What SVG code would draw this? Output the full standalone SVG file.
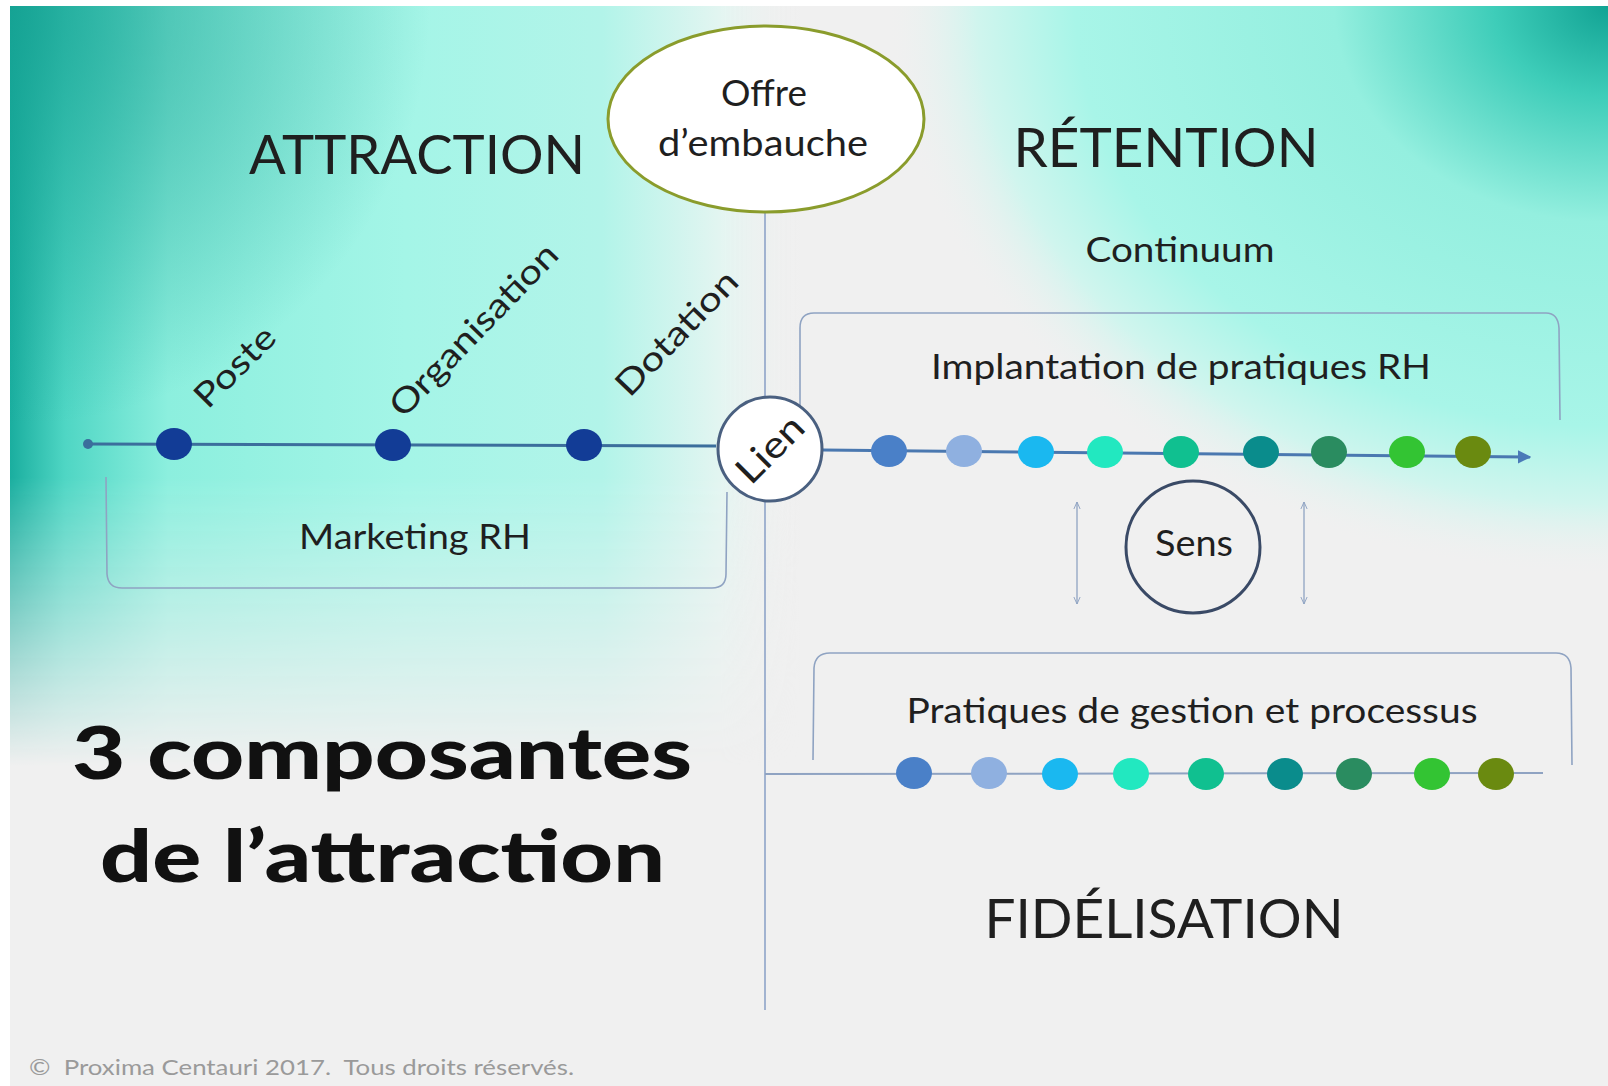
<svg xmlns="http://www.w3.org/2000/svg" width="1608" height="1086" viewBox="0 0 1608 1086">
<style>
.t{font-family:Lato,"Liberation Sans",sans-serif;fill:#1f1f1f;text-anchor:middle}
.big{font-size:55px}
.mid{font-size:34px}
.bold{font-family:Lato,"DejaVu Sans",sans-serif;font-weight:900;font-size:72px;fill:#111}
.br{fill:none;stroke:#8fa3c2;stroke-width:1.6}
.vl{stroke:#8ea4c8;stroke-width:1.6;fill:none}
.dn{fill:#123c96}
</style>
<defs>
<linearGradient id="gL" x1="0" y1="0" x2="1" y2="0">
<stop offset="0" stop-color="#1aae9f"/>
<stop offset="0.07" stop-color="#4fd6c4"/>
<stop offset="0.2" stop-color="#8cefde"/>
<stop offset="0.5" stop-color="#a4f5e7"/>
<stop offset="0.75" stop-color="#b2f4e9"/>
<stop offset="0.9" stop-color="#e3f5f1"/>
<stop offset="1" stop-color="#f0f0f0" stop-opacity="0"/>
</linearGradient>
<linearGradient id="gV" x1="0" y1="0" x2="0" y2="1">
<stop offset="0" stop-color="#fff"/>
<stop offset="0.62" stop-color="#fff"/>
<stop offset="1" stop-color="#000"/>
</linearGradient>
<mask id="mL" maskUnits="userSpaceOnUse" x="0" y="0" width="800" height="780">
<rect x="0" y="6" width="800" height="760" fill="url(#gV)"/>
</mask>
<radialGradient id="gR" gradientUnits="userSpaceOnUse" cx="0" cy="0" r="1" gradientTransform="translate(1608 6) scale(760 600)">
<stop offset="0" stop-color="#12a394"/>
<stop offset="0.15" stop-color="#3ecdb9"/>
<stop offset="0.36" stop-color="#94efdf"/>
<stop offset="0.7" stop-color="#a8f5e8"/>
<stop offset="0.83" stop-color="#d0f5ee"/>
<stop offset="0.95" stop-color="#f0f0f0" stop-opacity="0"/>
</radialGradient>
<radialGradient id="gTL" gradientUnits="userSpaceOnUse" cx="10" cy="6" r="420">
<stop offset="0" stop-color="#14a091" stop-opacity="0.8"/>
<stop offset="1" stop-color="#14a091" stop-opacity="0"/>
</radialGradient>
<marker id="ah" viewBox="0 0 10 10" refX="9" refY="5" markerWidth="4.5" markerHeight="4.5" orient="auto">
<path d="M0,0 L10,5 L0,10 Z" fill="#4a7ab8"/>
</marker>
<marker id="oa" viewBox="0 0 10 10" refX="9" refY="5" markerWidth="8" markerHeight="8" orient="auto-start-reverse" markerUnits="userSpaceOnUse">
<path d="M0,1 L9,5 L0,9" fill="none" stroke="#8fa3c2" stroke-width="1.2"/>
</marker>
</defs>

<!-- background -->
<rect x="0" y="0" width="1608" height="1086" fill="#ffffff"/>
<rect x="10" y="6" width="1598" height="1080" fill="#f0f0f0"/>
<rect x="10" y="6" width="790" height="760" fill="url(#gL)" mask="url(#mL)"/>
<rect x="10" y="6" width="500" height="500" fill="url(#gTL)"/>
<rect x="840" y="6" width="768" height="720" fill="url(#gR)"/>

<!-- connectors -->
<g id="connectors">
<line class="vl" x1="765" y1="213" x2="765" y2="1010"/>
<line x1="88" y1="444" x2="716" y2="446" stroke="#3b6e9c" stroke-width="3"/>
<circle cx="88" cy="444" r="5" fill="#3b6e9c"/>
<line x1="823" y1="450" x2="1530" y2="457" stroke="#4a78b0" stroke-width="3" marker-end="url(#ah)"/>
<line x1="765" y1="774" x2="1543" y2="773" stroke="#8fa3c2" stroke-width="2"/>
<path class="br" d="M800 406 L800 328 Q800 313 814 313 L1546 313 Q1558 313 1559 328 L1560 420"/>
<path class="br" d="M106 477 L107 574 Q108 588 122 588 L712 588 Q726 588 726 574 L727 492"/>
<path class="br" d="M813 760 L814 668 Q815 653 830 653 L1556 653 Q1570 653 1571 668 L1572 765"/>
<line x1="1077" y1="502" x2="1077" y2="604" stroke="#8fa3c2" stroke-width="1.3" marker-start="url(#oa)" marker-end="url(#oa)"/>
<line x1="1304" y1="502" x2="1304" y2="604" stroke="#8fa3c2" stroke-width="1.3" marker-start="url(#oa)" marker-end="url(#oa)"/>
</g>

<!-- titles -->
<g id="title-attraction"><text class="t big" x="417" y="174" textLength="336" lengthAdjust="spacingAndGlyphs">ATTRACTION</text></g>
<g id="title-retention"><text class="t big" x="1166" y="167" textLength="305" lengthAdjust="spacingAndGlyphs">RÉTENTION</text></g>
<g id="title-fidelisation"><text class="t big" x="1164" y="938" textLength="359" lengthAdjust="spacingAndGlyphs">FIDÉLISATION</text></g>

<!-- Offre d'embauche -->
<g id="node-offre">
<ellipse cx="766" cy="119" rx="158" ry="93" fill="#ffffff" stroke="#8a9c2c" stroke-width="3"/>
<text class="t" style="font-size:36px" x="764" y="106" textLength="86" lengthAdjust="spacingAndGlyphs">Offre</text>
<text class="t" style="font-size:36px" x="763" y="156" textLength="210" lengthAdjust="spacingAndGlyphs">d’embauche</text>
</g>

<g id="label-continuum"><text class="t mid" x="1180" y="262" textLength="189" lengthAdjust="spacingAndGlyphs">Continuum</text></g>
<g id="label-implantation"><text class="t mid" x="1181" y="379" textLength="500" lengthAdjust="spacingAndGlyphs">Implantation de pratiques RH</text></g>
<g id="label-marketing"><text class="t mid" x="415" y="549" textLength="232" lengthAdjust="spacingAndGlyphs">Marketing RH</text></g>
<g id="label-pratiques"><text class="t mid" x="1192" y="723" textLength="571" lengthAdjust="spacingAndGlyphs">Pratiques de gestion et processus</text></g>

<!-- left timeline nodes -->
<g id="node-poste">
<ellipse class="dn" cx="174" cy="444" rx="18" ry="16"/>
<text class="t mid" transform="translate(243 375) rotate(-45)" x="0" y="0" textLength="100" lengthAdjust="spacingAndGlyphs">Poste</text>
</g>
<g id="node-organisation">
<ellipse class="dn" cx="393" cy="445" rx="18" ry="16"/>
<text class="t mid" transform="translate(482 338) rotate(-46)" x="0" y="0" textLength="226" lengthAdjust="spacingAndGlyphs">Organisation</text>
</g>
<g id="node-dotation">
<ellipse class="dn" cx="584" cy="445" rx="18" ry="16"/>
<text class="t mid" transform="translate(685 341) rotate(-46)" x="0" y="0" textLength="160" lengthAdjust="spacingAndGlyphs">Dotation</text>
</g>

<!-- Lien -->
<g id="node-lien">
<circle cx="770" cy="449" r="52" fill="#ffffff" stroke="#4a6080" stroke-width="3"/>
<text class="t" style="font-size:37px" transform="translate(779 458) rotate(-45)" x="0" y="0" textLength="80" lengthAdjust="spacingAndGlyphs">Lien</text>
</g>

<!-- right timeline dots -->
<g id="dots-retention">
<ellipse cx="889" cy="451" rx="18" ry="16" fill="#4a80c8"/>
<ellipse cx="964" cy="451" rx="18" ry="16" fill="#8fb0e0"/>
<ellipse cx="1036" cy="452" rx="18" ry="16" fill="#1ab8f0"/>
<ellipse cx="1105" cy="452" rx="18" ry="16" fill="#22e8c0"/>
<ellipse cx="1181" cy="452" rx="18" ry="16" fill="#10c090"/>
<ellipse cx="1261" cy="452" rx="18" ry="16" fill="#0a8c8c"/>
<ellipse cx="1329" cy="452" rx="18" ry="16" fill="#2a8c60"/>
<ellipse cx="1407" cy="452" rx="18" ry="16" fill="#33c433"/>
<ellipse cx="1473" cy="452" rx="18" ry="16" fill="#6a8a10"/>
</g>

<!-- Sens -->
<g id="node-sens">
<ellipse cx="1193" cy="547" rx="67" ry="66" fill="none" stroke="#3a4a66" stroke-width="3"/>
<text class="t" style="font-size:36px" x="1194" y="556" textLength="78" lengthAdjust="spacingAndGlyphs">Sens</text>
</g>

<!-- bottom timeline dots -->
<g id="dots-fidelisation">
<ellipse cx="914" cy="773" rx="18" ry="16" fill="#4a80c8"/>
<ellipse cx="989" cy="773" rx="18" ry="16" fill="#8fb0e0"/>
<ellipse cx="1060" cy="774" rx="18" ry="16" fill="#1ab8f0"/>
<ellipse cx="1131" cy="774" rx="18" ry="16" fill="#22e8c0"/>
<ellipse cx="1206" cy="774" rx="18" ry="16" fill="#10c090"/>
<ellipse cx="1285" cy="774" rx="18" ry="16" fill="#0a8c8c"/>
<ellipse cx="1354" cy="774" rx="18" ry="16" fill="#2a8c60"/>
<ellipse cx="1432" cy="774" rx="18" ry="16" fill="#33c433"/>
<ellipse cx="1496" cy="774" rx="18" ry="16" fill="#6a8a10"/>
</g>

<!-- big caption -->
<g id="caption">
<text class="bold" x="72" y="779" textLength="620" lengthAdjust="spacingAndGlyphs">3 composantes</text>
<text class="bold" x="100" y="882" textLength="565" lengthAdjust="spacingAndGlyphs">de l’attraction</text>
</g>

<g id="copyright"><text x="29" y="1075" xml:space="preserve" style="font-family:Lato,'Liberation Sans',sans-serif;font-size:21px;fill:#9a9a9a" textLength="545" lengthAdjust="spacingAndGlyphs">©  Proxima Centauri 2017.  Tous droits réservés.</text></g>
</svg>
